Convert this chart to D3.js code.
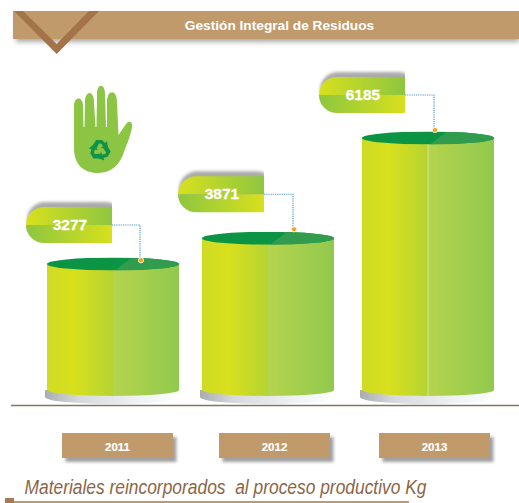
<!DOCTYPE html>
<html>
<head>
<meta charset="utf-8">
<script src="https://cdn.jsdelivr.net/npm/d3@7"></script>
<style>
  html, body { margin: 0; padding: 0; background: #fff; }
  svg { display: block; }
  text { font-family: "Liberation Sans", Arial, sans-serif; }
</style>
</head>
<body>
<svg id="chart" width="519" height="503"></svg>
<script>
const years = ["2011", "2012", "2013"];
const values = [3277, 3871, 6185];
const chartTitle = "Gestión Integral de Residuos";
const footerTitle = "Materiales reincorporados  al proceso productivo Kg";

const svg = d3.select("#chart");
const defs = svg.append("defs");

const tan = "#c19a6b";
const tanDark = "#a3734a";
const baseY = 392;

// the columns do not start at zero in the picture, so the domain does not either
const yScale = d3.scaleLinear().domain([323, 6185]).range([baseY, 138]);
const xScale = d3.scaleOrdinal().domain(years).range([113, 268, 428]);
const labelScale = d3.scaleOrdinal().domain(years).range([117.5, 274.5, 434.5]);

// callouts are placed by hand around each column
const pillDx = [-87, -90, -109];
const pillDy = [-57, -62, -61];
const dotDx = [28, 26, 7];
const dotDy = [-3.7, -9, -8];

function gradient(id, stops, x2 = 1, y2 = 0) {
  let g = defs
    .append("linearGradient")
    .attr("id", id)
    .attr("x1", 0)
    .attr("y1", 0)
    .attr("x2", x2)
    .attr("y2", y2);
  stops.forEach(([o, c]) => g.append("stop").attr("offset", o).attr("stop-color", c));
}

gradient("body", [[0, "#cfdb24"], [0.2, "#d8e01d"], [0.5, "#b6d332"], [0.5, "#b5d44e"], [1, "#91c94d"]]);
gradient("pillTop", [[0, "#d8e01d"], [1, "#8dc63f"]]);
gradient("pillBottom", [[0, "#8dc63f"], [1, "#d8e01d"]]);
gradient("plate", [[0, "#a9adb0"], [0.25, "#d7dadc"], [0.7, "#f0f2f3"], [1, "#ffffff"]]);

let blur = defs
  .append("filter")
  .attr("id", "shadow")
  .attr("x", "-10%")
  .attr("y", "-30%")
  .attr("width", "125%")
  .attr("height", "170%");
blur.append("feGaussianBlur").attr("stdDeviation", 2.5);

let softBlur = defs
  .append("filter")
  .attr("id", "softShadow")
  .attr("x", "-10%")
  .attr("y", "-30%")
  .attr("width", "125%")
  .attr("height", "170%");
softBlur.append("feGaussianBlur").attr("stdDeviation", 1.6);

// header band
svg.append("rect").attr("x", 16).attr("y", 15).attr("width", 503).attr("height", 27)
  .attr("fill", "#555").attr("opacity", 0.5).attr("filter", "url(#shadow)");
svg.append("rect").attr("x", 13).attr("y", 11).attr("width", 506).attr("height", 28).attr("fill", tan);
svg.append("path").attr("d", "M14,11 L56.7,54 L99,11 L89,11 L56.7,44 L23,11 Z").attr("fill", tanDark);
svg.append("text")
  .attr("x", 279.5)
  .attr("y", 30)
  .attr("text-anchor", "middle")
  .attr("fill", "#fff")
  .attr("font-size", 13.7)
  .attr("font-weight", "bold")
  .text(chartTitle);

// hand icon
let hand = svg.append("g").attr("transform", "translate(74, 86)");
hand.append("path")
  .attr("d",
    "M0,20 C0,10 9,10 9,20 L9.5,41 L10.5,41 L11,16 C11,4 20,4 20,16 L21.5,41 L22.5,41 L23,8 C23,-3 31,-3 31,8 L32,41 L33,41 " +
    "L33,16 C33,3 43,3 43,16 L44.5,49 L52,38 C55,34 59,36 58,41 C56,52 52,60 50,66 C46,78 38,87 24,87 C8,87 0,77 0,62 Z")
  .attr("fill", "#8cc544");
let recycle = hand.append("g").attr("transform", "translate(26, 64)").attr("fill", "#0f9347");
[0, 120, 240].forEach((angle) => {
  recycle.append("path")
    .attr("transform", `rotate(${angle})`)
    .attr("d", "M-8,-3 L-4,-10 L2,-10 L5,-7 L7,-9 L8,-2 L1,-2 L3,-4 L1,-6.5 L-1,-6.5 L-3.5,-1.5 Z");
});

// baseline
svg.append("line")
  .attr("x1", 11).attr("x2", 519).attr("y1", 405.5).attr("y2", 405.5)
  .attr("stroke", "#85735f").attr("stroke-width", 1.6);

const halfW = 66;
const lidRy = 6.5;
const edgeY = baseY - 2;

years.forEach((year, i) => {
  let cx = xScale(year);
  let top = yScale(values[i]);
  let g = svg.append("g");

  // grey plate under the column
  g.append("path")
    .attr("d", `M${cx - halfW - 2},${edgeY} L${cx - halfW - 2},${edgeY + 7}
      A${halfW + 2},7 0 0 0 ${cx + halfW + 2},${edgeY + 7} L${cx + halfW + 2},${edgeY} Z`)
    .attr("fill", "url(#plate)");

  g.append("path")
    .attr("d", `M${cx - halfW},${top} L${cx - halfW},${edgeY}
      A${halfW},6 0 0 0 ${cx + halfW},${edgeY} L${cx + halfW},${top} Z`)
    .attr("fill", "url(#body)");

  // only the tallest column shows the seam
  if (i === 2) {
    g.append("line")
      .attr("x1", cx).attr("x2", cx)
      .attr("y1", top).attr("y2", edgeY + 6)
      .attr("stroke", "#d6e58a").attr("stroke-width", 1);
  }

  // lid, lighter wedge on the right
  defs.append("clipPath")
    .attr("id", `lidClip${i}`)
    .append("ellipse")
    .attr("cx", cx).attr("cy", top)
    .attr("rx", halfW).attr("ry", lidRy);
  let lid = g.append("g").attr("clip-path", `url(#lidClip${i})`);
  lid.append("rect")
    .attr("x", cx - halfW).attr("y", top - lidRy)
    .attr("width", halfW * 2).attr("height", lidRy * 2)
    .attr("fill", "#0b9444");
  lid.append("path")
    .attr("d", `M${cx + 2},${top + lidRy} L${cx + 19},${top - lidRy} L${cx + halfW},${top - lidRy} L${cx + halfW},${top + lidRy} Z`)
    .attr("fill", "#329c4e");

  // callout
  let pillX = cx + pillDx[i];
  let pillY = top + pillDy[i];
  let pillW = 86;
  let pillH = 36;
  let r = pillH / 2;
  let dotX = cx + dotDx[i];
  let dotY = top + dotDy[i];

  defs.append("clipPath")
    .attr("id", `pillClip${i}`)
    .append("rect")
    .attr("x", pillX - 5).attr("y", pillY - 12)
    .attr("width", pillW + 5).attr("height", pillH + 12);
  svg.append("g")
    .attr("clip-path", `url(#pillClip${i})`)
    .append("rect")
    .attr("x", pillX + 1).attr("y", pillY - 5)
    .attr("width", pillW + 10).attr("height", pillH)
    .attr("rx", r)
    .attr("fill", "#666").attr("opacity", 0.55).attr("filter", "url(#softShadow)");

  svg.append("path")
    .attr("d", `M${pillX + pillW},${pillY} L${pillX + r},${pillY} A${r},${r} 0 0 0 ${pillX},${pillY + r} L${pillX + pillW},${pillY + r} Z`)
    .attr("fill", "url(#pillTop)");
  svg.append("path")
    .attr("d", `M${pillX},${pillY + r} A${r},${r} 0 0 0 ${pillX + r},${pillY + pillH} L${pillX + pillW},${pillY + pillH} L${pillX + pillW},${pillY + r} Z`)
    .attr("fill", "url(#pillBottom)");

  svg.append("path")
    .attr("d", `M${pillX + pillW},${pillY + r} L${dotX - 1},${pillY + r} L${dotX - 1},${dotY}`)
    .attr("fill", "none")
    .attr("stroke", "#4f94cd")
    .attr("stroke-width", 1.2)
    .attr("stroke-dasharray", "1.2 1");

  svg.append("circle")
    .attr("cx", dotX).attr("cy", dotY)
    .attr("r", 2.6)
    .attr("fill", "#f7a11a")
    .attr("stroke", "#fff")
    .attr("stroke-width", 0.8);

  svg.append("text")
    .attr("x", pillX + 44)
    .attr("y", pillY + 23)
    .attr("text-anchor", "middle")
    .attr("fill", "#fff")
    .attr("stroke", "#fff")
    .attr("stroke-width", 0.3)
    .attr("font-size", 15.5)
    .attr("font-weight", "bold")
    .text(values[i]);

  // year box
  let lx = labelScale(year);
  svg.append("rect")
    .attr("x", lx - 52).attr("y", 437).attr("width", 111).attr("height", 25)
    .attr("fill", "#555").attr("opacity", 0.55).attr("filter", "url(#softShadow)");
  svg.append("rect")
    .attr("x", lx - 55.5).attr("y", 433).attr("width", 111).attr("height", 25)
    .attr("fill", tan);
  svg.append("text")
    .attr("x", lx)
    .attr("y", 451)
    .attr("text-anchor", "middle")
    .attr("fill", "#fff")
    .attr("stroke", "#fff")
    .attr("stroke-width", 0.2)
    .attr("font-size", 11.5)
    .attr("font-weight", "bold")
    .text(year);
});

// footer
svg.append("text")
  .attr("x", 24.5)
  .attr("y", 494)
  .attr("fill", "#8a6647")
  .attr("font-size", 20)
  .attr("font-style", "italic")
  .attr("font-family", "Roboto, sans-serif")
  .attr("font-weight", 300)
  .attr("textLength", 402)
  .attr("lengthAdjust", "spacingAndGlyphs")
  .style("white-space", "pre")
  .text(footerTitle);
svg.append("rect").attr("x", 5).attr("y", 498).attr("width", 9).attr("height", 5).attr("fill", "#a9794f");
svg.append("rect").attr("x", 14).attr("y", 501).attr("width", 395).attr("height", 2).attr("fill", tan);
</script>
</body>
</html>
